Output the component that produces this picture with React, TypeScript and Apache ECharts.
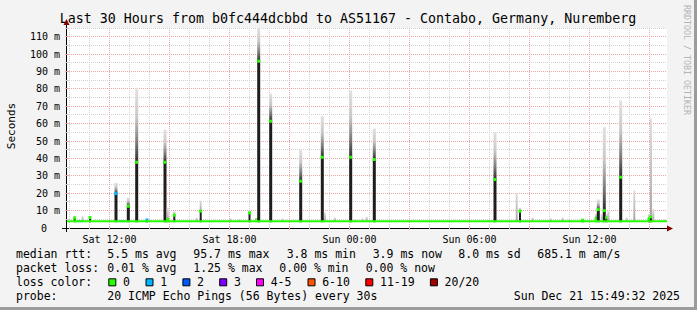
import React, { useEffect, useRef } from 'react';
import * as echarts from 'echarts';

// ---------- texts ----------
const TITLE = 'Last 30 Hours from b0fc444dcbbd to AS51167 - Contabo, Germany, Nuremberg';
const Y_TITLE = 'Seconds';
const WATERMARK = 'RRDTOOL / TOBI OETIKER';

// ---------- axis ranges (hours since Sat 00:00, milliseconds) ----------
const timeStart = 9.875;
const timeEnd = 39.875;
const yMaxMs = 115;
const baselineMedian = 3.9;

// ---------- smoke / median events ----------
const spikeTime = [
  10.26, 10.66, 11.025, 12.325, 12.94, 13.36, 13.875, 14.775, 14.91, 15.24,
  16.36, 16.56, 18.06, 18.49, 19.0, 19.36, 19.46, 20.06, 20.66, 21.56,
  22.64, 22.775, 23.275, 24.06, 24.275, 24.66, 24.86, 25.24, 31.275, 32.36,
  32.525, 33.16, 34.075, 34.66, 34.99, 35.66, 36.325, 36.44, 36.61, 36.74,
  36.86, 36.94, 37.56, 37.86, 38.24, 38.975, 39.075, 39.19, 39.775,
];
const spikeMedian = [
  5.8, 3.9, 6.0, 19.8, 12.5, 37.8, 4.6, 37.8, 5.0, 7.4,
  3.9, 9.7, 3.9, 3.9, 8.7, 4.8, 95.9, 61.4, 3.9, 26.9,
  40.7, 3.9, 3.9, 40.7, 3.9, 3.9, 3.9, 39.4, 27.9, 3.9,
  9.7, 3.9, 3.9, 3.9, 3.9, 4.5, 5.5, 10.6, 3.9, 10.0,
  5.9, 3.9, 29.2, 3.9, 3.9, 5.3, 6.4, 3.9, 3.9,
];
const spikeMax = [
  7.2, 6.8, 6.8, 26.0, 17.4, 80.6, 5.2, 56.6, 11.8, 9.7,
  6.0, 15.8, 5.5, 5.0, 10.6, 5.5, 120.0, 77.3, 5.5, 45.1,
  64.3, 8.9, 6.0, 79.0, 5.0, 5.5, 6.5, 57.2, 55.1, 20.2,
  11.6, 6.0, 5.5, 6.0, 5.0, 5.0, 8.0, 16.4, 8.0, 58.0,
  8.0, 10.0, 73.3, 6.0, 21.6, 8.0, 63.0, 11.0, 5.0,
];
const spikeLoss = [
  0, 1, 0, 1, 0, 0, 1, 0, 0, 0,
  0, 0, 0, 0, 0, 0, 0, 0, 0, 0,
  0, 0, 0, 0, 0, 0, 0, 0, 0, 0,
  0, 0, 0, 0, 0, 0, 0, 0, 0, 0,
  0, 0, 0, 0, 0, 0, 0, 0, 0,
];

// periods with packet loss on the baseline median
const lossSegStart = [10.36, 12.44, 13.775];
const lossSegEnd = [10.69, 12.875, 13.9];
const lossSegClass = [1, 1, 1];

// ---------- grid / ticks ----------
const minorGridHours = [10, 11, 13, 14, 16, 17, 19, 20, 22, 23, 25, 26, 28, 29, 31, 32, 34, 35, 37, 38];
const majorGridHours = [12, 15, 18, 21, 24, 27, 30, 33, 36, 39];
const xLabelHours = [12, 18, 24, 30, 36];
const xLabels = ['Sat 12:00', 'Sat 18:00', 'Sun 00:00', 'Sun 06:00', 'Sun 12:00'];
const yMinorGrid = [5, 15, 25, 35, 45, 55, 65, 75, 85, 95, 105, 115];
const yMajorGrid = [10, 20, 30, 40, 50, 60, 70, 80, 90, 100, 110];

// ---------- legend ----------
const rttTitle = 'median rtt:';
const rttStats = ['5.5 ms avg', '95.7 ms max', '3.8 ms min', '3.9 ms now', '8.0 ms sd', '685.1 m am/s'];
const lossTitle = 'packet loss:';
const lossStats = ['0.01 % avg', '1.25 % max', '0.00 % min', '0.00 % now'];
const lossColorTitle = 'loss color:';
const lossLabels = ['0', '1', '2', '3', '4-5', '6-10', '11-19', '20/20'];
const lossColors = ['#26ff00', '#00b8ff', '#0059ff', '#7e00ff', '#ff00ff', '#ff5500', '#ff0000', '#a10000'];
const probeTitle = 'probe:';
const probeText = '20 ICMP Echo Pings (56 Bytes) every 30s';
const dateText = 'Sun Dec 21 15:49:32 2025';

// ---------- layout ----------
const MONO = '"DejaVu Sans Mono", monospace';
const W = 697;
const H = 310;
const rttX = [107.3, 193.3, 286.7, 372.7, 458.3, 537.3];
const lossX = [107.3, 193.3, 279.3, 365.7];
const boxX = [108.3, 145.5, 182.4, 219.2, 256, 307.5, 365.3, 429.9];
const lineY = [254.3, 268.3, 282.3, 296.2];

function txt(text: string, x: number, y: number, font: string, align = 'left', fill = '#000', extra: any = {}) {
  return {
    type: 'text',
    x,
    y,
    silent: true,
    ...extra,
    style: {
      text,
      font,
      fill,
      align,
      textAlign: align,
      verticalAlign: 'middle',
      textVerticalAlign: 'middle',
    },
  };
}

function buildOption() {
  const legendFont = `11.5px ${MONO}`;
  const graphics: any[] = [];

  // frame shading
  graphics.push({ type: 'rect', shape: { x: 694, y: 0, width: 3, height: H }, style: { fill: '#9c9c9c' }, silent: true });
  graphics.push({ type: 'rect', shape: { x: 0, y: 307, width: W, height: 3 }, style: { fill: '#9c9c9c' }, silent: true });

  graphics.push(txt(TITLE, 348, 18.5, `13.3px ${MONO}`, 'center'));
  graphics.push(txt(Y_TITLE, 11, 126, `11px ${MONO}`, 'center', '#000', { rotation: Math.PI / 2 }));
  graphics.push(txt(WATERMARK, 687, 60, `8.3px ${MONO}`, 'center', '#b4b4b4', { rotation: -Math.PI / 2 }));

  // axes
  graphics.push({ type: 'line', shape: { x1: 62, y1: 228.5, x2: 668, y2: 228.5 }, style: { stroke: '#000', lineWidth: 1 }, silent: true });
  graphics.push({ type: 'polygon', shape: { points: [[667, 225.5], [673, 228.5], [667, 231.5]] }, style: { fill: '#8a0000' }, silent: true });
  graphics.push({ type: 'line', shape: { x1: 66.5, y1: 232, x2: 66.5, y2: 24 }, style: { stroke: '#000', lineWidth: 1 }, silent: true });
  graphics.push({ type: 'polygon', shape: { points: [[63.5, 25], [66.5, 19], [69.5, 25]] }, style: { fill: '#8a0000' }, silent: true });

  // legend lines
  graphics.push(txt(rttTitle, 16, lineY[0], legendFont));
  rttStats.forEach((s, i) => graphics.push(txt(s, rttX[i], lineY[0], legendFont)));
  graphics.push(txt(lossTitle, 16, lineY[1], legendFont));
  lossStats.forEach((s, i) => graphics.push(txt(s, lossX[i], lineY[1], legendFont)));
  graphics.push(txt(lossColorTitle, 16, lineY[2], legendFont));
  lossLabels.forEach((s, i) => {
    graphics.push({
      type: 'rect',
      shape: { x: boxX[i] + 0.5, y: lineY[2] - 3.5, width: 7, height: 7 },
      style: { fill: lossColors[i], stroke: '#000', lineWidth: 1 },
      silent: true,
    });
    graphics.push(txt(s, boxX[i] + 14.7, lineY[2], legendFont));
  });
  graphics.push(txt(probeTitle, 16, lineY[3], legendFont));
  graphics.push(txt(probeText, 107.3, lineY[3], legendFont));
  graphics.push(txt(dateText, 680, lineY[3], legendFont, 'right'));

  const smokeBig = () =>
    new echarts.graphic.LinearGradient(0, 0, 0, 1, [
      { offset: 0, color: '#e2e2e2' },
      { offset: 0.4, color: '#c8c8c8' },
      { offset: 0.75, color: '#777777' },
      { offset: 1, color: '#2c2c2c' },
    ]);
  const smokeSmall = () =>
    new echarts.graphic.LinearGradient(0, 0, 0, 1, [
      { offset: 0, color: '#e0e0e0' },
      { offset: 1, color: '#a8a8a8' },
    ]);

  const vGrid = (hours: number[], color: string, tick: number) => ({
    type: 'custom',
    silent: true,
    data: hours.map((h) => [h, 0]),
    encode: { x: 0, y: 1 },
    renderItem: (params: any, api: any) => {
      const cs = params.coordSys;
      const x = Math.round(api.coord([api.value(0), 0])[0] - 0.5) + 0.5;
      return {
        type: 'group',
        children: [
          {
            type: 'line',
            shape: { x1: x, y1: cs.y, x2: x, y2: cs.y + cs.height },
            style: { stroke: color, lineWidth: 1, lineDash: [1, 1] },
          },
          {
            type: 'line',
            shape: { x1: x, y1: cs.y + cs.height - tick, x2: x, y2: cs.y + cs.height + tick },
            style: { stroke: color, lineWidth: 1 },
          },
        ],
      };
    },
  });

  const hGrid = (vals: number[], color: string) => ({
    type: 'custom',
    silent: true,
    data: vals.map((v) => [timeStart, v]),
    encode: { x: 0, y: 1 },
    renderItem: (params: any, api: any) => {
      const cs = params.coordSys;
      const y = Math.round(api.coord([timeStart, api.value(1)])[1] - 0.5) + 0.5;
      return {
        type: 'group',
        children: [
          {
            type: 'line',
            shape: { x1: cs.x, y1: y, x2: cs.x + cs.width, y2: y },
            style: { stroke: color, lineWidth: 1, lineDash: [1, 1] },
          },
          {
            type: 'line',
            shape: { x1: cs.x - 2, y1: y, x2: cs.x + 2, y2: y },
            style: { stroke: color, lineWidth: 1 },
          },
        ],
      };
    },
  });

  return {
    animation: false,
    backgroundColor: '#f3f3f3',
    grid: { left: 67, right: 30, top: 28, bottom: 82, show: true, backgroundColor: '#ffffff', borderWidth: 0 },
    xAxis: { type: 'value', min: timeStart, max: timeEnd, show: false },
    yAxis: {
      type: 'value',
      min: 0,
      max: yMaxMs,
      interval: 10,
      axisLine: { show: false },
      axisTick: { show: false },
      splitLine: { show: false },
      axisLabel: {
        margin: 7,
        fontFamily: 'DejaVu Sans Mono',
        fontSize: 10,
        color: '#000',
        formatter: (v: number) => (v % 10 !== 0 ? '' : v === 0 ? '{z|0}' : `${v} m`),
        rich: { z: { fontFamily: 'DejaVu Sans Mono', fontSize: 10, color: '#000', padding: [0, 13, 0, 0] } },
      },
    },
    graphic: graphics,
    series: [
      hGrid(yMinorGrid, '#d2d2d2'),
      vGrid(minorGridHours, '#d2d2d2', 1),
      hGrid(yMajorGrid, '#eca6a6'),
      vGrid(majorGridHours, '#eca6a6', 2),
      {
        // x labels
        type: 'custom',
        silent: true,
        data: xLabelHours.map((h, i) => [h, 0, i]),
        encode: { x: 0, y: 1 },
        renderItem: (params: any, api: any) => {
          const [x, y] = api.coord([api.value(0), 0]);
          return {
            type: 'text',
            x,
            y: y + 11.5,
            style: {
              text: xLabels[api.value(2)],
              font: `10px ${MONO}`,
              fill: '#000',
              align: 'center',
              verticalAlign: 'middle',
            },
          };
        },
      },
      {
        type: 'line',
        silent: true,
        symbol: 'none',
        data: [
          [timeStart, baselineMedian],
          [timeEnd, baselineMedian],
        ],
        lineStyle: { color: lossColors[0], width: 2 },
      },
      {
        type: 'custom',
        silent: true,
        data: lossSegStart.map((s, i) => [s, baselineMedian, lossSegEnd[i], lossSegClass[i]]),
        encode: { x: 0, y: 1 },
        renderItem: (params: any, api: any) => {
          const [x1, y] = api.coord([api.value(0), api.value(1)]);
          const x2 = api.coord([api.value(2), api.value(1)])[0];
          return {
            type: 'rect',
            shape: { x: x1, y: y - 1, width: x2 - x1, height: 2 },
            style: { fill: lossColors[api.value(3)] },
          };
        },
      },
      {
        type: 'custom',
        silent: true,
        data: spikeTime.map((t, i) => [t, spikeMedian[i], spikeMax[i], spikeLoss[i]]),
        encode: { x: 0, y: 1 },
        renderItem: (params: any, api: any) => {
          const t = api.value(0);
          const med = api.value(1);
          const mx = api.value(2);
          const loss = api.value(3);
          const cs = params.coordSys;
          const [x, yMed] = api.coord([t, med]);
          const yMx = Math.max(cs.y, api.coord([t, mx])[1]);
          const yBase = api.coord([t, baselineMedian])[1];
          const raised = med - baselineMedian > 0.5;
          const big = med - baselineMedian > 6;
          const w = big ? 3 : 2;
          const children: any[] = [];
          if (big) {
            children.push({ type: 'rect', shape: { x: x - 3, y: yBase - 1.5, width: 6, height: 3 }, style: { fill: '#ffffff' } });
          }
          if (mx > med) {
            children.push({
              type: 'rect',
              shape: { x: x - w / 2, y: yMx, width: w, height: yMed - yMx },
              style: { fill: big ? smokeBig() : smokeSmall() },
            });
          }
          if (raised) {
            children.push({
              type: 'rect',
              shape: { x: x - w / 2, y: yMed, width: w, height: yBase - yMed + 1 },
              style: { fill: '#1e1e1e' },
            });
            children.push({
              type: 'rect',
              shape: { x: x - 1.5, y: yMed - 1.5, width: 3, height: 3 },
              style: { fill: lossColors[loss] },
            });
          }
          return { type: 'group', children };
        },
      },
    ],
  };
}

export default function App() {
  const ref = useRef<HTMLDivElement>(null);
  useEffect(() => {
    if (!ref.current) return;
    const chart = echarts.init(ref.current, null, { renderer: 'svg' });
    chart.setOption(buildOption() as any);
    return () => chart.dispose();
  }, []);
  return <div ref={ref} style={{ position: 'absolute', left: 0, top: 0, width: W, height: H }} />;
}
